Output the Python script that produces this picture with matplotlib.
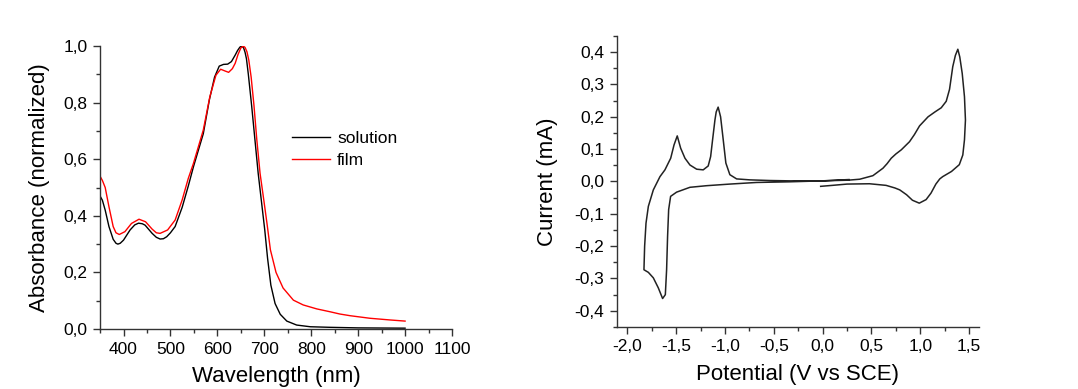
import matplotlib
matplotlib.use("Agg")
import matplotlib.pyplot as plt
from matplotlib.ticker import MultipleLocator, FuncFormatter

plt.rcParams['font.family'] = ['Liberation Sans', 'DejaVu Sans']

# UV-vis spectra
wl_solution = [350, 355, 361, 369, 378, 384, 388, 393, 400, 414, 424, 432, 440, 446,
               461, 470, 478, 485, 492, 500, 510, 525, 538, 549, 570, 583, 594, 604,
               613, 622, 630, 638, 643, 648, 652, 656, 659, 662, 666, 673, 680, 687,
               694, 701, 707, 714, 723, 734, 748, 769, 798, 840, 900, 1000]
abs_solution = [0.47, 0.455, 0.42, 0.362, 0.317, 0.303, 0.300, 0.303, 0.314, 0.350,
                0.368, 0.374, 0.372, 0.367, 0.338, 0.324, 0.318, 0.319, 0.326, 0.340,
                0.362, 0.43, 0.505, 0.573, 0.69, 0.81, 0.89, 0.929, 0.935, 0.936,
                0.945, 0.968, 0.984, 0.996, 1.0, 0.993, 0.978, 0.955, 0.90, 0.79, 0.67,
                0.55, 0.45, 0.35, 0.25, 0.155, 0.09, 0.052, 0.028, 0.014, 0.008, 0.006,
                0.004, 0.003]

wl_film = [350, 355, 361, 369, 378, 384, 391, 403, 417, 433, 447, 461, 470, 478, 494,
           510, 525, 538, 549, 570, 584, 597, 607, 616, 624, 632, 638, 644, 650, 655,
           659, 663, 667, 672, 678, 684, 691, 699, 706, 713, 725, 740, 762, 783, 812,
           840, 861, 883, 925, 968, 1000]
abs_film = [0.54, 0.525, 0.50, 0.432, 0.362, 0.34, 0.334, 0.344, 0.373, 0.388, 0.379,
            0.353, 0.340, 0.338, 0.35, 0.385, 0.456, 0.532, 0.585, 0.703, 0.821, 0.897,
            0.918, 0.912, 0.907, 0.92, 0.939, 0.97, 0.993, 1.0, 0.995, 0.98, 0.95, 0.89,
            0.79, 0.67, 0.55, 0.455, 0.37, 0.28, 0.20, 0.145, 0.102, 0.085, 0.071,
            0.061, 0.053, 0.047, 0.038, 0.032, 0.028]

# cyclic voltammogram (V vs SCE, mA)
potential = [-0.02, 0.10, 0.25, 0.48, 0.65, 0.74, 0.79, 0.86, 0.92, 0.99, 1.06, 1.11,
             1.16, 1.20, 1.23, 1.32, 1.40, 1.436, 1.453, 1.463, 1.453, 1.43, 1.405,
             1.385, 1.36, 1.333, 1.30, 1.266, 1.215, 1.15, 1.08, 0.993, 0.94, 0.89,
             0.806, 0.75, 0.703, 0.66, 0.618, 0.515, 0.38, 0.26, 0.0, -0.336, -0.541,
             -0.745, -0.881, -0.95, -0.991, -1.018, -1.045, -1.07, -1.09, -1.103,
             -1.127, -1.147, -1.172, -1.223, -1.29, -1.359, -1.41, -1.454, -1.489,
             -1.522, -1.556, -1.615, -1.666, -1.734, -1.785, -1.809, -1.823, -1.83,
             -1.785, -1.734, -1.683, -1.639, -1.611, -1.598, -1.588, -1.577, -1.557,
             -1.496, -1.359, -1.188, -0.95, -0.677, -0.336, 0.0, 0.27]
current = [-0.015, -0.012, -0.008, -0.007, -0.012, -0.02, -0.026, -0.041, -0.058,
           -0.067, -0.056, -0.036, -0.008, 0.008, 0.015, 0.031, 0.052, 0.082, 0.129,
           0.19, 0.262, 0.334, 0.385, 0.409, 0.39, 0.355, 0.285, 0.248, 0.228, 0.215,
           0.200, 0.172, 0.145, 0.123, 0.098, 0.085, 0.072, 0.055, 0.041, 0.018, 0.007,
           0.004, 0.002, 0.002, 0.003, 0.005, 0.008, 0.021, 0.057, 0.129, 0.2, 0.23,
           0.215, 0.19, 0.129, 0.077, 0.048, 0.036, 0.038, 0.051, 0.072, 0.103, 0.141,
           0.113, 0.072, 0.036, 0.015, -0.026, -0.077, -0.129, -0.2, -0.273, -0.281,
           -0.298, -0.329, -0.362, -0.35, -0.273, -0.17, -0.087, -0.046, -0.033,
           -0.018, -0.013, -0.008, -0.003, -0.001, 0.002, 0.006]


def comma(v, pos):
    return f"{v:.1f}".replace('.', ',').replace('\u2212', '-')


def style(ax):
    for s in ['top', 'right']:
        ax.spines[s].set_visible(False)
    for s in ['left', 'bottom']:
        ax.spines[s].set_color('#333333')
        ax.spines[s].set_linewidth(1.0)
    ax.tick_params(which='major', direction='out', length=5, width=1,
                   colors='#333333', labelcolor='black', labelsize=12.5, pad=4)
    ax.tick_params(which='minor', direction='out', length=3, width=1, colors='#333333')


fig = plt.figure(figsize=(10.78, 3.89), dpi=100)

ax1 = fig.add_axes([0.0928, 0.1542, 0.3265, 0.7275])
ax1.plot(wl_solution, abs_solution, color='black', lw=1.0, label='solution')
ax1.plot(wl_film, abs_film, color='#ff0000', lw=1.0, label='film')
ax1.set_xlim(350, 1100)
ax1.set_ylim(0, 1.0)
ax1.xaxis.set_major_locator(MultipleLocator(100))
ax1.xaxis.set_minor_locator(MultipleLocator(50))
ax1.yaxis.set_major_locator(MultipleLocator(0.2))
ax1.yaxis.set_minor_locator(MultipleLocator(0.1))
ax1.yaxis.set_major_formatter(FuncFormatter(comma))
ax1.xaxis.set_major_formatter(FuncFormatter(lambda v, p: '' if v < 400 else f"{v:.0f}"))
style(ax1)
ax1.set_xlabel('Wavelength (nm)', fontsize=16, labelpad=7)
ax1.set_ylabel('Absorbance (normalized)', fontsize=16, labelpad=10)
ax1.legend(loc='upper left', bbox_to_anchor=(0.545, 0.70), frameon=False, fontsize=12.5,
           handlelength=2.2, handletextpad=0.4, labelspacing=0.37,
           borderpad=0, borderaxespad=0)

ax2 = fig.add_axes([0.572, 0.1594, 0.336, 0.7481])
ax2.plot(potential, current, color='#222222', lw=1.1)
ax2.set_xlim(-2.11, 1.6)
ax2.set_ylim(-0.45, 0.45)
ax2.xaxis.set_major_locator(MultipleLocator(0.5))
ax2.xaxis.set_minor_locator(MultipleLocator(0.25))
ax2.yaxis.set_major_locator(MultipleLocator(0.1))
ax2.yaxis.set_minor_locator(MultipleLocator(0.05))
ax2.xaxis.set_major_formatter(FuncFormatter(comma))
ax2.yaxis.set_major_formatter(FuncFormatter(comma))
style(ax2)
ax2.set_xlabel('Potential (V vs SCE)', fontsize=16, labelpad=7)
ax2.set_ylabel('Current (mA)', fontsize=16, labelpad=12)

fig.savefig('out.png', dpi=100)
